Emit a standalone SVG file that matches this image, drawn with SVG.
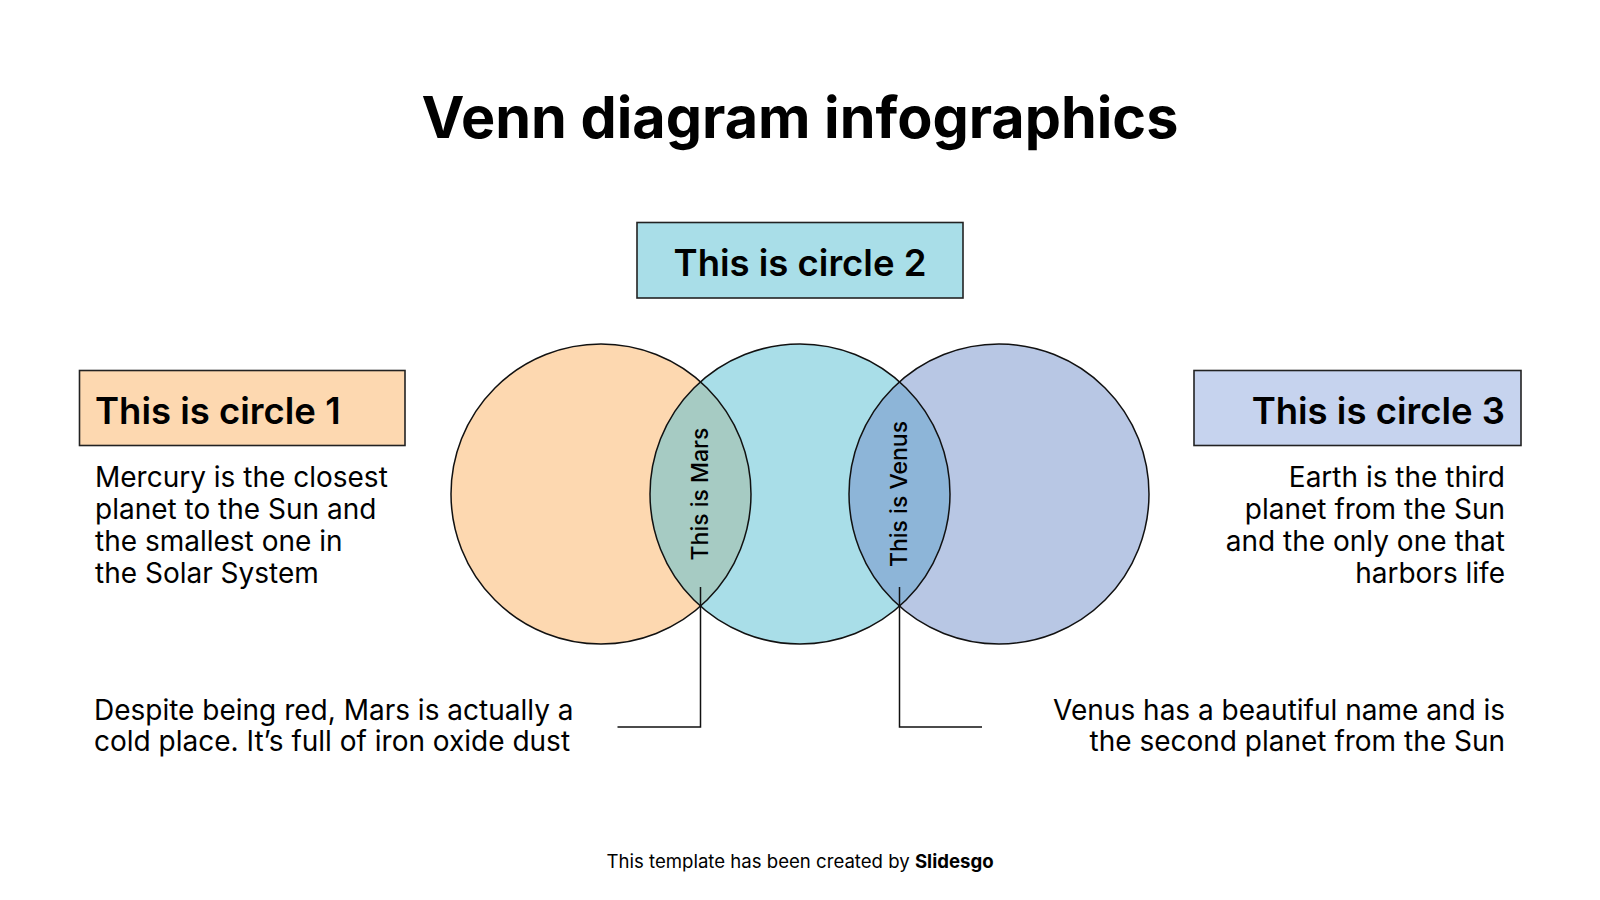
<svg xmlns="http://www.w3.org/2000/svg" width="1600" height="900" viewBox="0 0 1600 900">
<style>
text{font-family:Inter,"Noto Sans","Liberation Sans",sans-serif;fill:#000}
.title{font-size:57.5px;font-weight:700}
.head{font-size:36.5px;font-weight:600}
.body{font-size:28px;font-weight:400}
.rot{font-size:23px;font-weight:500}
.foot{font-size:18.6px}
.box{stroke:#222;stroke-width:1.6}
.ring{fill:none;stroke:#111;stroke-width:1.5}
.conn{fill:none;stroke:#111;stroke-width:1.5}
</style>
<rect width="1600" height="900" fill="#fff"/>
<text class="title" x="800" y="138" text-anchor="middle">Venn diagram infographics</text>
<g id="venn">
<circle cx="601" cy="494" r="150" fill="#FDD8B0"/>
<circle cx="800" cy="494" r="150" fill="#A9DEE8"/>
<circle cx="999" cy="494" r="150" fill="#B8C7E4"/>
<path d="M700.5 381.75 A150 150 0 0 1 700.5 606.25 A150 150 0 0 1 700.5 381.75 Z" fill="#A6CBC3"/>
<path d="M899.5 381.75 A150 150 0 0 1 899.5 606.25 A150 150 0 0 1 899.5 381.75 Z" fill="#8DB5D8"/>
<circle class="ring" cx="601" cy="494" r="150"/>
<circle class="ring" cx="800" cy="494" r="150"/>
<circle class="ring" cx="999" cy="494" r="150"/>
</g>
<g id="mars-label"><text class="rot" transform="translate(708 494) rotate(-90)" text-anchor="middle">This is Mars</text></g>
<g id="venus-label"><text class="rot" transform="translate(907 494) rotate(-90)" text-anchor="middle">This is Venus</text></g>
<g id="circle2">
<rect class="box" x="637" y="222.5" width="326" height="75.5" fill="#A9DEE8"/>
<text class="head" x="800" y="275.5" text-anchor="middle">This is circle 2</text>
</g>
<g id="circle1">
<rect class="box" x="79.5" y="370.5" width="325.5" height="75" fill="#FDD8B0"/>
<text class="head" x="95" y="423.5">This is circle 1</text>
<text class="body" x="95" y="486.5">Mercury is the closest</text>
<text class="body" x="95" y="518.5">planet to the Sun and</text>
<text class="body" x="95" y="550.5">the smallest one in</text>
<text class="body" x="95" y="582.5">the Solar System</text>
</g>
<g id="circle3">
<rect class="box" x="1194" y="370.5" width="327" height="75" fill="#C6D3EE"/>
<text class="head" x="1505" y="423.5" text-anchor="end">This is circle 3</text>
<text class="body" x="1505" y="486.5" text-anchor="end">Earth is the third</text>
<text class="body" x="1505" y="518.5" text-anchor="end">planet from the Sun</text>
<text class="body" x="1505" y="550.5" text-anchor="end">and the only one that</text>
<text class="body" x="1505" y="582.5" text-anchor="end">harbors life</text>
</g>
<g id="connectors">
<path class="conn" d="M700.5 587 V727 H617.5"/>
<path class="conn" d="M899.5 587 V727 H982"/>
</g>
<g id="mars-note">
<text class="body" x="94" y="719.5">Despite being red, Mars is actually a</text>
<text class="body" x="94" y="751">cold place. It’s full of iron oxide dust</text>
</g>
<g id="venus-note">
<text class="body" x="1505" y="719.5" text-anchor="end">Venus has a beautiful name and is</text>
<text class="body" x="1505" y="751" text-anchor="end">the second planet from the Sun</text>
</g>
<text class="foot" x="800" y="867.5" text-anchor="middle">This template has been created by <tspan font-weight="700">Slidesgo</tspan></text>
</svg>
